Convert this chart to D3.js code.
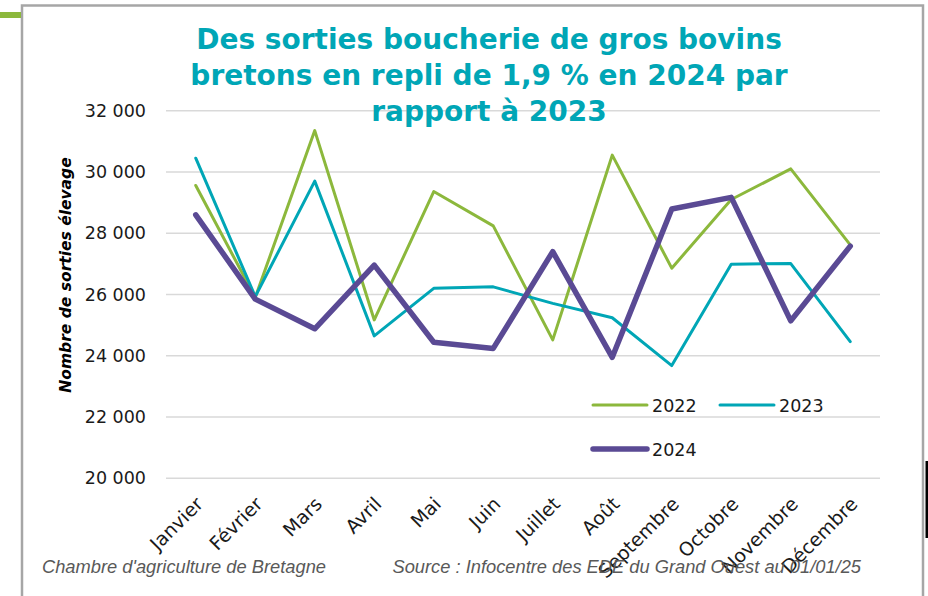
<!DOCTYPE html>
<html>
<head>
<meta charset="utf-8">
<script src="https://cdn.jsdelivr.net/npm/d3@7"></script>
<style>
  body { margin: 0; background: #fff; }
  svg { display: block; }
</style>
</head>
<body>
<svg id="chart" width="928" height="596"></svg>
<script>
// Data
const months = ["Janvier", "Février", "Mars", "Avril", "Mai", "Juin", "Juillet", "Août", "Septembre", "Octobre", "Novembre", "Décembre"];
const values2022 = [29560, 25900, 31350, 25170, 29360, 28240, 24520, 30550, 26860, 29100, 30100, 27620];
const values2023 = [30450, 25930, 29700, 24650, 26200, 26250, 25710, 25240, 23680, 26990, 27010, 24460];
const values2024 = [28600, 25850, 24880, 26960, 24440, 24240, 27400, 23950, 28790, 29170, 25140, 27580];
const yTicks = [20000, 22000, 24000, 26000, 28000, 30000, 32000];
const titleLines = ["Des sorties boucherie de gros bovins", "bretons en repli de 1,9 % en 2024 par", "rapport à 2023"];

const series = [
    { name: "2022", values: values2022, color: "#8cb83c", width: 3 },
    { name: "2023", values: values2023, color: "#00a6b6", width: 3 },
    { name: "2024", values: values2024, color: "#5a4a94", width: 5.5 }
];

const svg = d3.select("#chart");

// Frame
svg.append("rect")
    .attr("x", 22).attr("y", 5.5)
    .attr("width", 901).attr("height", 600)
    .attr("fill", "none")
    .attr("stroke", "#a6a6a6")
    .attr("stroke-width", 2.5);

svg.append("rect")
    .attr("x", 0).attr("y", 12)
    .attr("width", 21).attr("height", 6)
    .attr("fill", "#8cb83c");

svg.append("rect")
    .attr("x", 925.5).attr("y", 461)
    .attr("width", 3).attr("height", 77)
    .attr("fill", "#000");

// Scales
const x = d3.scalePoint().domain(months).range([166, 880]).padding(0.5);
const y = d3.scaleLinear().domain([20000, 32000]).range([478.3, 110.7]);

// Gridlines
svg.append("g")
    .selectAll("line")
    .data(yTicks)
    .join("line")
    .attr("x1", 166).attr("x2", 880)
    .attr("y1", d => y(d)).attr("y2", d => y(d))
    .attr("stroke", "#d9d9d9")
    .attr("stroke-width", 1.5);

// Y axis
const yAxis = d3.axisLeft(y)
    .tickValues(yTicks)
    .tickSize(0)
    .tickPadding(20)
    .tickFormat(d => d3.format(",")(d).replace(",", " "));

svg.append("g")
    .attr("transform", "translate(166,0)")
    .call(yAxis)
    .call(g => g.select(".domain").remove())
    .selectAll("text")
    .attr("font-family", "DejaVu Sans, Verdana, sans-serif")
    .attr("font-size", 17.5)
    .attr("fill", "#1a1a1a");

// X axis labels (upright text, rotated)
const xAxis = d3.axisBottom(x).tickSize(0).tickPadding(0);
svg.append("g")
    .attr("transform", "translate(0,478.3)")
    .call(xAxis)
    .call(g => g.select(".domain").remove())
    .selectAll("text")
    .attr("font-family", "DejaVu Sans, Verdana, sans-serif")
    .attr("font-size", 19)
    .attr("fill", "#1a1a1a")
    .attr("dy", 0)
    .attr("text-anchor", "end")
    .attr("transform", "translate(8,27) rotate(-45)");

// Y axis title
svg.append("text")
    .attr("transform", "translate(71,275) rotate(-90)")
    .attr("text-anchor", "middle")
    .attr("font-family", "DejaVu Sans, Verdana, sans-serif")
    .attr("font-weight", "bold")
    .attr("font-style", "italic")
    .attr("font-size", 15.5)
    .attr("fill", "#000")
    .text("Nombre de sorties élevage");

// Lines
const line = d3.line()
    .x((d, i) => x(months[i]))
    .y(d => y(d));

svg.append("g")
    .selectAll("path")
    .data(series)
    .join("path")
    .attr("d", d => line(d.values))
    .attr("fill", "none")
    .attr("stroke", d => d.color)
    .attr("stroke-width", d => d.width)
    .attr("stroke-linejoin", "round")
    .attr("stroke-linecap", "round");

// Title
svg.append("text")
    .attr("text-anchor", "middle")
    .attr("font-family", "DejaVu Sans, Verdana, sans-serif")
    .attr("font-weight", "bold")
    .attr("font-size", 28)
    .attr("fill", "#00a6b6")
    .selectAll("tspan")
    .data(titleLines)
    .join("tspan")
    .attr("x", 489)
    .attr("y", (d, i) => 49 + i * 36)
    .text(d => d);

// Legend
const legendPos = [
    { x: 593, y: 405 },
    { x: 720, y: 405 },
    { x: 593, y: 449 }
];

const legend = svg.append("g")
    .selectAll("g")
    .data(series)
    .join("g")
    .attr("transform", (d, i) => `translate(${legendPos[i].x},${legendPos[i].y})`);

legend.append("line")
    .attr("x1", 0).attr("x2", 54)
    .attr("stroke", d => d.color)
    .attr("stroke-width", d => d.width)
    .attr("stroke-linecap", "round");

legend.append("text")
    .attr("x", 59)
    .attr("y", 7)
    .attr("font-family", "DejaVu Sans, Verdana, sans-serif")
    .attr("font-size", 17.5)
    .attr("fill", "#1a1a1a")
    .text(d => d.name);

// Footer
svg.append("text")
    .attr("x", 42).attr("y", 573)
    .attr("font-family", "Liberation Sans, Arial, sans-serif")
    .attr("font-style", "italic")
    .attr("font-size", 18.3)
    .attr("fill", "#595959")
    .text("Chambre d'agriculture de Bretagne");

svg.append("text")
    .attr("x", 861).attr("y", 573)
    .attr("text-anchor", "end")
    .attr("font-family", "Liberation Sans, Arial, sans-serif")
    .attr("font-style", "italic")
    .attr("font-size", 18.3)
    .attr("fill", "#595959")
    .text("Source : Infocentre des EDE du Grand Ouest au 01/01/25");
</script>
</body>
</html>
